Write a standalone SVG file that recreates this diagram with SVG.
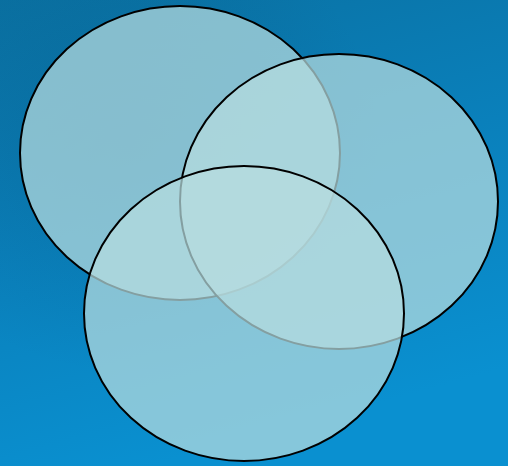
<svg xmlns="http://www.w3.org/2000/svg" width="508" height="466" viewBox="0 0 508 466">
  <defs>
    <linearGradient id="bg" x1="0" y1="0" x2="0.3" y2="1">
      <stop offset="0" stop-color="#0a71a2"/>
      <stop offset="0.5" stop-color="#0a80bb"/>
      <stop offset="1" stop-color="#0a90d0"/>
    </linearGradient>
    <radialGradient id="mottle" cx="0.25" cy="0.3" r="0.5">
      <stop offset="0" stop-color="#064f78" stop-opacity="0.25"/>
      <stop offset="1" stop-color="#064f78" stop-opacity="0"/>
    </radialGradient>
  </defs>
  <style>
    .set { fill: #b7dddf; fill-opacity: 0.72; stroke: #000000; stroke-width: 2; }
  </style>
  <rect width="508" height="466" fill="url(#bg)"/>
  <rect width="508" height="466" fill="url(#mottle)"/>
  <g id="set-a">
    <ellipse class="set" cx="180" cy="153" rx="160" ry="147"/>
  </g>
  <g id="set-b">
    <ellipse class="set" cx="339" cy="201.5" rx="159" ry="147.5"/>
  </g>
  <g id="set-c">
    <ellipse class="set" cx="244" cy="313.5" rx="160" ry="147.5"/>
  </g>
  <g id="connectors"></g>
</svg>
